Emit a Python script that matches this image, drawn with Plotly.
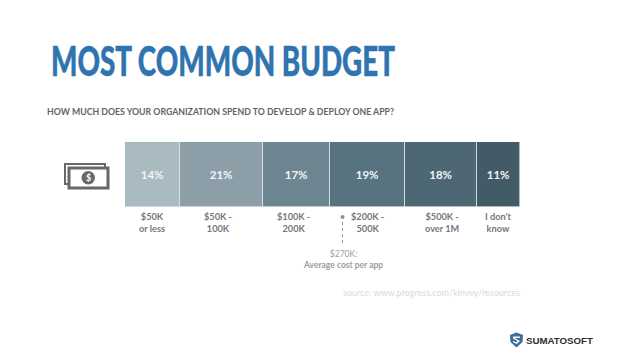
import plotly.graph_objects as go

categories = ["$50K<br>or less", "$50K -<br>100K", "$100K -<br>200K", "$200K -<br>500K", "$500K -<br>over 1M", "I don't<br>know"]
shares = [14, 21, 17, 19, 18, 11]
bar_colors = ["#a9bac1", "#8c9fa8", "#6d8692", "#587380", "#4d6774", "#425b67"]
label_offsets_px = [-1, -4, -3, 0, 1, 0]
title = "MOST COMMON BUDGET"
question = "HOW MUCH DOES YOUR ORGANIZATION SPEND TO DEVELOP &amp; DEPLOY ONE APP?"
avg_note = "$270K:<br><b>Average cost per app</b>"
source = "source: www.progress.com/kinvey/resources"
brand = "SUMATOSOFT"

W, H = 638, 359
L, R, T, B = 125, 520, 142, 207
px = lambda x: (x - L) / (R - L)
py = lambda y: (B - y) / (B - T)

fig = go.Figure()
for i, (c, v, col) in enumerate(zip(categories, shares, bar_colors)):
    fig.add_bar(y=[""], x=[v], orientation="h", marker=dict(color=col, line=dict(color="#dfe6e9", width=0.7)),
                text=[f"<b>{v}%</b>"], textposition="inside", insidetextanchor="middle",
                textangle=0, textfont=dict(family="Lato", size=11.5, color="#f2f5f6"),
                showlegend=False, hoverinfo="skip")

def note(x, y, text, size, color, family="Lato", anchor="center", weight=None):
    f = dict(family=family, size=size, color=color)
    if weight:
        f["weight"] = weight
    fig.add_annotation(xref="paper", yref="paper", x=px(x), y=py(y), text=text, showarrow=False,
                       xanchor=anchor, yanchor="middle", align=anchor if anchor != "center" else "center",
                       font=f)

note(49, 60, title, 41, "#2f74b0", "Lato", "left", weight=900)
note(45, 111, f"<b>{question}</b>", 8.75, "#5f6468", "Lato", "left")

cum = 0
for c, v, off in zip(categories, shares, label_offsets_px):
    fig.add_annotation(xref="x", yref="paper", x=cum + v / 2, xshift=off, y=py(222), text=f"<b>{c}</b>", showarrow=False,
                       xanchor="center", yanchor="middle", font=dict(family="Lato", size=9.2, color="#74787b"))
    cum += v

note(343, 259, avg_note, 8.5, "#9a9da0")
note(431, 292, source, 9.0, "#d6dadd", "Lato")
note(524, 340, f"<b>{brand}</b>", 9.7, "#2b2f33", "Liberation Sans", "left")

shapes = []
# average-cost marker
shapes.append(dict(type="circle", xref="paper", yref="paper", x0=px(340.5), x1=px(344.5), y0=py(219), y1=py(215),
                   fillcolor="#a08a93", line=dict(width=0)))
shapes.append(dict(type="line", xref="paper", yref="paper", x0=px(342.5), x1=px(342.5), y0=py(222), y1=py(246),
                   line=dict(color="#a08a93", width=1, dash="3px,3px")))
# banknote icon
shapes.append(dict(type="rect", xref="paper", yref="paper", x0=px(65), x1=px(105), y0=py(164), y1=py(184),
                   fillcolor="rgba(0,0,0,0)", line=dict(color="#66696c", width=2)))
shapes.append(dict(type="rect", xref="paper", yref="paper", x0=px(69), x1=px(108), y0=py(168), y1=py(188),
                   fillcolor="#ffffff", line=dict(color="#66696c", width=3)))
shapes.append(dict(type="circle", xref="paper", yref="paper", x0=px(81.5), x1=px(95), y0=py(171), y1=py(184.5),
                   fillcolor="#66696c", line=dict(width=0)))
fig.update_layout(shapes=shapes)
note(88.3, 177.8, "<b>$</b>", 9, "#ffffff", "Lato")

# logo shield
def pth(points):
    return "M " + " L ".join(f"{px(x):.4f},{py(y):.4f}" for x, y in points) + " Z"
fig.add_shape(type="path", xref="paper", yref="paper",
              path=pth([(510, 335), (516.5, 332.5), (523, 335), (522.5, 342), (516.5, 347.5), (510.5, 342)]),
              fillcolor="#3a6d9c", line=dict(width=0))
fig.add_shape(type="path", xref="paper", yref="paper",
              path=pth([(513, 336.5), (520, 336.5), (520, 338), (514.5, 338), (520, 341), (516.5, 344), (513, 342), (513, 341), (516.5, 342.3), (517.5, 341), (513, 338.5)]),
              fillcolor="#ffffff", line=dict(width=0))

fig.update_layout(
    width=W, height=H, autosize=False, barmode="stack", bargap=0,
    margin=dict(l=L, r=W - R, t=T, b=H - B, pad=0),
    paper_bgcolor="#ffffff", plot_bgcolor="#ffffff",
    xaxis=dict(range=[0, sum(shares)], visible=False, fixedrange=True),
    yaxis=dict(visible=False, fixedrange=True),
)

# Remove the page margin and condense the headline to the reference's narrow letterforms.
post = """
document.body.style.margin = '0';
document.querySelectorAll('.annotation-text').forEach(function (t) {
  if (t.textContent === 'MOST COMMON BUDGET') {
    t.setAttribute('textLength', '344');
    t.setAttribute('lengthAdjust', 'spacingAndGlyphs');
    t.style.stroke = '#2f74b0';
    t.style.strokeWidth = '0.5px';
  }
});
"""
fig.write_html("out.html", config={"displayModeBar": False}, post_script=post)
